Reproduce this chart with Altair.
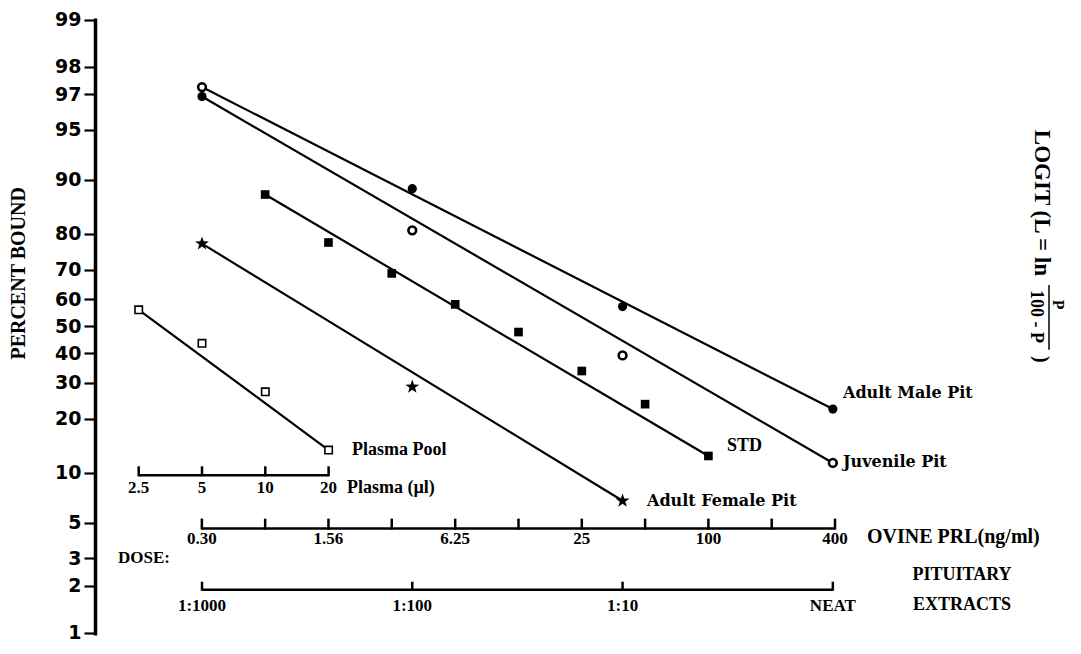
import math
import numpy as np
import pandas as pd
import altair as alt

# ---------------- data ----------------
# Pituitary extracts: dose given as fraction of neat extract (1:1000 ... NEAT)
male_dil = [0.001, 0.01, 0.1, 1.0]
male_pct = [97.3, 88.7, 57.3, 22.4]
male_mark = ["open_circle", "filled_circle", "filled_circle", "filled_circle"]

juv_dil = [0.001, 0.01, 0.1, 1.0]
juv_pct = [96.9, 80.8, 39.2, 11.4]
juv_mark = ["filled_circle", "open_circle", "open_circle", "open_circle"]

fem_dil = [0.001, 0.01, 0.1]
fem_pct = [77.5, 28.7, 6.8]

# Ovine PRL standard (ng/ml)
std_ng = [0.78, 1.56, 3.12, 6.25, 12.5, 25, 50, 100]
std_pct = [87.8, 77.8, 68.8, 58.1, 47.8, 33.8, 23.7, 12.5]

# Plasma pool (ul)
plasma_ul = [2.5, 5, 10, 20]
plasma_pct = [56.1, 43.6, 27.2, 13.5]

# fitted regression lines (end points)
male_fit_dil, male_fit_pct = [0.001, 1.0], [97.3, 22.4]
juv_fit_dil, juv_fit_pct = [0.001, 1.0], [96.9, 11.4]
fem_fit_dil, fem_fit_pct = [0.001, 0.1], [77.5, 6.8]
std_fit_ng, std_fit_pct = [0.78, 100], [87.8, 12.5]
plasma_fit_ul, plasma_fit_pct = [2.5, 20], [56.1, 13.5]

# axis ticks / labels
pct_ticks = [1, 2, 3, 5, 10, 20, 30, 40, 50, 60, 70, 80, 90, 95, 97, 98, 99]
plasma_ticks = [2.5, 5, 10, 20]
plasma_labels = ["2.5", "5", "10", "20"]
prl_ticks = [0.39, 0.78, 1.56, 3.12, 6.25, 12.5, 25, 50, 100, 200, 400]
prl_label_vals = [0.39, 1.56, 6.25, 25, 100, 400]
prl_labels = ["0.30", "1.56", "6.25", "25", "100", "400"]
pit_ticks = [0.001, 0.01, 0.1, 1.0]
pit_labels = ["1:1000", "1:100", "1:10", "NEAT"]

# ---------------- transforms ----------------
PRL_REF, PL_REF, PIT_REF = 0.390625, 5.0, 0.001


def u_prl(v):
    return [math.log2(x / PRL_REF) for x in v]


def u_pl(v):
    return [math.log2(x / PL_REF) for x in v]


def u_pit(v):
    return [math.log2(x / PIT_REF) for x in v]


def logit(p):
    return [math.log(x / (100.0 - x)) for x in p]


pts = pd.concat([
    pd.DataFrame({"s": "male", "u": u_pit(male_dil), "L": logit(male_pct), "m": male_mark}),
    pd.DataFrame({"s": "juv", "u": u_pit(juv_dil), "L": logit(juv_pct), "m": juv_mark}),
    pd.DataFrame({"s": "fem", "u": u_pit(fem_dil), "L": logit(fem_pct), "m": "star"}),
    pd.DataFrame({"s": "std", "u": u_prl(std_ng), "L": logit(std_pct), "m": "filled_square"}),
    pd.DataFrame({"s": "plasma", "u": u_pl(plasma_ul), "L": logit(plasma_pct), "m": "open_square"}),
], ignore_index=True)

fits = pd.concat([
    pd.DataFrame({"s": "male", "u": u_pit(male_fit_dil), "L": logit(male_fit_pct)}),
    pd.DataFrame({"s": "juv", "u": u_pit(juv_fit_dil), "L": logit(juv_fit_pct)}),
    pd.DataFrame({"s": "fem", "u": u_pit(fem_fit_dil), "L": logit(fem_fit_pct)}),
    pd.DataFrame({"s": "std", "u": u_prl(std_fit_ng), "L": logit(std_fit_pct)}),
    pd.DataFrame({"s": "plasma", "u": u_pl(plasma_fit_ul), "L": logit(plasma_fit_pct)}),
], ignore_index=True)

# ---------------- layout ----------------
W, H = 973, 617
PAD_L, PAD_T, PAD_B, PAD_R = 87, 10, 9, 0
U_LEFT = -107 / 63.3
U_RIGHT = (W - 107) / 63.3
Y_TOP, Y_BOT = 4.62, -4.63

SERIF = "Liberation Serif"
WSERIF = "DejaVu Serif"
SANS = "DejaVu Sans"


def rx(page_x):
    return page_x - 95


def ry(page_y):
    L = (330 - page_y) / 68.2
    return (Y_TOP - L) * H / (Y_TOP - Y_BOT)


xs = alt.Scale(domain=[U_LEFT, U_RIGHT], nice=False, zero=False)
ys = alt.Scale(domain=[Y_BOT, Y_TOP], nice=False, zero=False)
yaxis = alt.Axis(
    values=logit(pct_ticks),
    labelExpr="format(100/(1+exp(-datum.value)), '.0f')",
    title=None, grid=False, domainWidth=3.5, domainColor="black",
    tickSize=11, tickWidth=2.2, tickColor="black",
    labelFont=SANS, labelFontWeight="bold", labelFontSize=19,
    labelColor="black", labelPadding=3, labelOverlap=False,
)
X = alt.X("u:Q", scale=xs, axis=None)
Y = alt.Y("L:Q", scale=ys, axis=yaxis)

STAR = ("M0,-1L0.235,-0.324L0.951,-0.309L0.38,0.124L0.588,0.809L0,0.4"
        "L-0.588,0.809L-0.38,0.124L-0.951,-0.309L-0.235,-0.324Z")

layers = []

lines = alt.Chart(fits).mark_line(color="black", strokeWidth=2.2).encode(
    x=X, y=Y, detail="s:N")
layers.append(lines)

base = alt.Chart(pts)
layers.append(base.transform_filter(alt.datum.m == "filled_circle").mark_point(
    shape="circle", filled=True, color="black", size=85, opacity=1).encode(x=X, y=Y))
layers.append(base.transform_filter(alt.datum.m == "open_circle").mark_point(
    shape="circle", filled=True, fill="white", stroke="black", strokeWidth=2.6,
    size=60, opacity=1).encode(x=X, y=Y))
layers.append(base.transform_filter(alt.datum.m == "filled_square").mark_point(
    shape="square", filled=True, color="black", size=75, opacity=1).encode(x=X, y=Y))
layers.append(base.transform_filter(alt.datum.m == "open_square").mark_point(
    shape="square", filled=True, fill="white", stroke="black", strokeWidth=1.6,
    size=55, opacity=1).encode(x=X, y=Y))
layers.append(base.transform_filter(alt.datum.m == "star").mark_point(
    shape=STAR, filled=True, color="black", size=210, opacity=1).encode(x=X, y=Y))


def dose_axis(us, line_y, tick_us, label_us, labels, tick_len=9, label_y=None, size=17):
    out = []
    seg = pd.DataFrame({"u": [min(us)], "u2": [max(us)]})
    out.append(alt.Chart(seg).mark_rule(color="black", strokeWidth=2.5).encode(
        x=alt.X("u:Q", scale=xs, axis=None), x2="u2:Q", y=alt.value(ry(line_y))))
    tk = pd.DataFrame({"u": tick_us})
    out.append(alt.Chart(tk).mark_rule(color="black", strokeWidth=2.5).encode(
        x=alt.X("u:Q", scale=xs, axis=None), y=alt.value(ry(line_y) + 1),
        y2=alt.value(ry(line_y) - tick_len)))
    lb = pd.DataFrame({"u": label_us, "t": labels})
    out.append(alt.Chart(lb).mark_text(
        font=SERIF, fontWeight="bold", fontSize=size, color="black",
        align="center", baseline="middle").encode(
        x=alt.X("u:Q", scale=xs, axis=None), y=alt.value(ry(label_y)), text="t:N"))
    return out


layers += dose_axis(u_pl(plasma_ticks), 482.5, u_pl(plasma_ticks), u_pl(plasma_ticks),
                    plasma_labels, label_y=495)
layers += dose_axis(u_prl(prl_ticks), 537, u_prl(prl_ticks), u_prl(prl_label_vals),
                    prl_labels, tick_len=10, label_y=548)
layers += dose_axis(u_pit(pit_ticks), 599.5, u_pit(pit_ticks), u_pit(pit_ticks),
                    pit_labels, tick_len=8, label_y=616)


def txt(s, page_x, page_y, size=18, font=SERIF, weight="bold", angle=0, align="left"):
    d = pd.DataFrame({"t": [s]})
    return alt.Chart(d).mark_text(
        font=font, fontWeight=weight, fontSize=size, color="black",
        align=align, baseline="middle", angle=angle).encode(
        x=alt.value(rx(page_x)), y=alt.value(ry(page_y)), text="t:N")


layers += [
    txt("Plasma  Pool", 352, 457),
    txt("STD", 727, 453),
    txt("Juvenile Pit", 843, 469, size=16, font=WSERIF),
    txt("Adult Female Pit", 647, 509, size=16, font=WSERIF),
    txt("Adult Male Pit", 843, 398, size=16, font=WSERIF),
    txt("Plasma  (\u00b5l)", 347, 495),
    txt("OVINE PRL(ng/ml)", 867, 546, size=20),
    txt("DOSE:", 118, 567, size=17),
    txt("PITUITARY", 962, 584, size=18, align="center"),
    txt("EXTRACTS", 962, 615, size=18, align="center"),
    txt("PERCENT BOUND", 18.5, 276, size=20, angle=270, align="center"),
    txt("LOGIT (L = ln", 1042, 204, size=23, angle=90, align="center"),
    txt("P", 1058, 308, size=16, angle=90, align="center"),
    txt("100  -  P", 1036, 320, size=18, angle=90, align="center"),
    txt(")", 1041, 364, size=20, angle=90, align="center"),
]

bar = pd.DataFrame({"a": [0]})
layers.append(alt.Chart(bar).mark_rule(color="black", strokeWidth=1.5).encode(
    x=alt.value(rx(1049)), y=alt.value(ry(288)), y2=alt.value(ry(354))))

chart = alt.layer(*layers).properties(
    width=W, height=H,
    padding={"left": PAD_L, "top": PAD_T, "right": PAD_R, "bottom": PAD_B},
    autosize=alt.AutoSizeParams(type="none"),
    background="white",
).configure_view(stroke=None)

chart.save("out.html", embed_options={"renderer": "svg", "actions": False})
